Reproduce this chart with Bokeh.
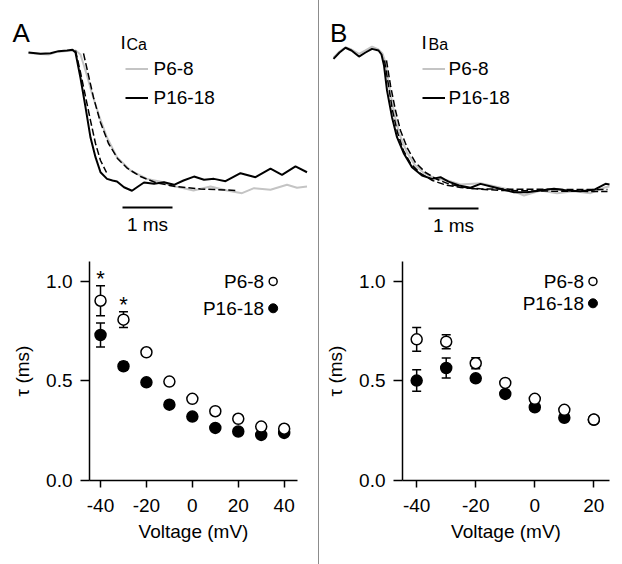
from bokeh.plotting import figure
from bokeh.layouts import row, column
from bokeh.models import ColumnDataSource, Whisker, TeeHead, FixedTicker, Div, PrintfTickFormatter
from bokeh.embed import file_html
from bokeh.resources import INLINE
from bokeh.core.properties import value

FONT = "Liberation Sans"
GRAY = "#c4c4c4"

# ---------------- traces (time in ms, normalised current) ----------------
a_black_t = [0.00, 0.24, 0.44, 0.60, 0.77, 0.88, 0.94, 1.04, 1.14, 1.24, 1.34, 1.44, 1.57, 1.68, 1.77, 1.91, 2.07,
             2.17, 2.31, 2.51, 2.71, 2.91, 3.10, 3.31, 3.51, 3.71, 3.94, 4.24, 4.54, 4.84, 5.07, 5.34, 5.57]
a_black_i = [0.00, -0.01, -0.005, 0.01, 0.015, 0.02, 0.00, -0.19, -0.405, -0.63, -0.775, -0.887, -0.936, -0.948,
             -0.956, -0.998, -1.024, -0.998, -0.963, -0.973, -0.961, -0.98, -0.948, -0.919, -0.943, -0.936, -0.953,
             -0.894, -0.924, -0.861, -0.906, -0.844, -0.887]
a_gray_t = [0.00, 0.24, 0.40, 0.56, 0.77, 0.94, 1.04, 1.17, 1.27, 1.41, 1.57, 1.77, 2.04, 2.37, 2.70, 2.84, 3.04,
            3.30, 3.64, 3.97, 4.27, 4.51, 4.84, 5.17, 5.37, 5.57]
a_gray_i = [-0.004, -0.011, -0.015, 0.004, 0.011, 0.015, -0.015, -0.17, -0.304, -0.467, -0.63, -0.776, -0.874,
            -0.936, -0.961, -0.985, -1.0, -1.022, -0.993, -1.022, -1.042, -1.005, -1.017, -0.98, -1.002, -0.993]
a_black_fit_t = [0.94, 1.04, 1.14, 1.24, 1.34, 1.44, 1.56]
a_black_fit_i = [0.015, -0.148, -0.326, -0.504, -0.674, -0.8, -0.889]
a_gray_fit_t = [1.10, 1.20, 1.30, 1.44, 1.60, 1.78, 1.98, 2.24, 2.54, 2.94, 3.44, 4.17]
a_gray_fit_i = [-0.007, -0.17, -0.333, -0.519, -0.674, -0.785, -0.859, -0.919, -0.963, -0.993, -1.011, -1.022]

b_black_t = [0.00, 0.12, 0.24, 0.36, 0.51, 0.64, 0.77, 0.90, 0.96, 1.01, 1.07, 1.17, 1.27, 1.41, 1.57, 1.77, 1.97,
             2.14, 2.30, 2.51, 2.74, 2.94, 3.21, 3.41, 3.61, 3.87, 4.14, 4.41, 4.67, 4.94, 5.21, 5.44, 5.52]
b_black_i = [-0.047, 0.0, 0.035, 0.015, -0.03, 0.0, 0.027, 0.015, -0.015, -0.096, -0.281, -0.479, -0.627, -0.75,
             -0.85, -0.911, -0.936, -0.924, -0.956, -0.985, -1.002, -0.973, -0.998, -1.017, -1.035, -1.035, -1.022,
             -1.01, -1.022, -1.027, -1.017, -0.973, -0.978]
b_gray_t = [0.00, 0.12, 0.24, 0.36, 0.51, 0.64, 0.77, 0.90, 0.98, 1.04, 1.12, 1.22, 1.32, 1.46, 1.62, 1.82, 2.04,
            2.28, 2.54, 2.94, 3.24, 3.54, 3.81, 4.14, 4.47, 4.81, 5.14, 5.44, 5.52]
b_gray_i = [-0.037, 0.007, 0.039, 0.022, -0.01, 0.015, 0.044, 0.022, -0.007, -0.074, -0.267, -0.459, -0.607,
            -0.733, -0.83, -0.896, -0.933, -0.948, -0.978, -0.968, -0.993, -1.017, -1.059, -1.022, -1.042, -1.027,
            -1.042, -0.998, -0.993]
b_black_fit_t = [1.02, 1.10, 1.18, 1.28, 1.40, 1.54, 1.74, 1.98, 2.24, 2.54, 2.94, 3.74, 5.48]
b_black_fit_i = [-0.059, -0.244, -0.43, -0.593, -0.726, -0.822, -0.896, -0.948, -0.981, -1.0, -1.01, -1.013, -1.015]
b_gray_fit_t = [1.06, 1.14, 1.24, 1.34, 1.48, 1.64, 1.84, 2.08, 2.34, 2.74, 3.34, 4.34, 5.48]
b_gray_fit_i = [-0.059, -0.244, -0.43, -0.578, -0.711, -0.815, -0.889, -0.941, -0.978, -1.007, -1.022, -1.027, -1.03]

# ---------------- tau vs voltage ----------------
a_volt = [-40, -30, -20, -10, 0, 10, 20, 30, 40]
a_p68 = [0.903, 0.808, 0.644, 0.497, 0.41, 0.348, 0.31, 0.271, 0.26]
a_p68_err = [0.075, 0.04, 0.012, 0.01, 0.01, 0.01, 0.01, 0.01, 0.01]
a_p1618 = [0.731, 0.574, 0.493, 0.381, 0.321, 0.264, 0.246, 0.229, 0.239]
a_p1618_err = [0.06, 0.02, 0.012, 0.01, 0.01, 0.01, 0.01, 0.01, 0.01]
a_star_volt = [-40, -30]

b_volt = [-40, -30, -20, -10, 0, 10, 20]
b_p68 = [0.709, 0.697, 0.589, 0.49, 0.41, 0.355, 0.306]
b_p68_err = [0.06, 0.035, 0.028, 0.012, 0.01, 0.01, 0.015]
b_p1618 = [0.502, 0.565, 0.513, 0.435, 0.368, 0.315, 0.305]
b_p1618_err = [0.054, 0.05, 0.015, 0.015, 0.01, 0.01, 0.01]

a_xticks = [-40, -20, 0, 20, 40]
b_xticks = [-40, -20, 0, 20]
yticks = [0.0, 0.5, 1.0]
series_names = ["P6-8", "P16-18"]

TOP_H = 245
BOT_H = 319
TOP_YR = (-1.4296, 0.3852)
FS = "19px"


def txt(p, x, y, s, size=FS, align="left", baseline="middle"):
    p.text(x=[x], y=[y], text=[s], text_font=value(FONT), text_font_size=size,
           text_align=align, text_baseline=baseline, text_color="black")


def trace_fig(width, xr, gray, black, gfit, bfit, letter, letter_x, sub, title_x, sub_x, leg_x0, leg_tx,
              bar_x0, bar_y):
    p = figure(width=width, height=TOP_H, x_range=xr, y_range=TOP_YR, output_backend="svg",
               toolbar_location=None, x_axis_location=None, y_axis_location=None, min_border=0,
               frame_align=False)
    p.grid.visible = False
    p.outline_line_color = None
    p.line(gray[0], gray[1], line_color=GRAY, line_width=2)
    p.line(black[0], black[1], line_color="black", line_width=2)
    p.line(gfit[0], gfit[1], line_color="black", line_width=1.5, line_dash="7 3")
    p.line(bfit[0], bfit[1], line_color="black", line_width=1.5, line_dash="7 3")
    # panel letter and title
    txt(p, letter_x, 0.141, letter, size="26px", baseline="alphabetic")
    txt(p, title_x, 0.074, "I", size="19px", baseline="alphabetic")
    txt(p, sub_x, 0.056, sub, size="16px", baseline="alphabetic")
    # legend
    p.line([leg_x0, leg_x0 + 0.45], [-0.122, -0.122], line_color=GRAY, line_width=2)
    p.line([leg_x0, leg_x0 + 0.45], [-0.337, -0.337], line_color="black", line_width=2)
    txt(p, leg_tx, -0.122, series_names[0])
    txt(p, leg_tx, -0.337, series_names[1])
    # 1 ms scale bar
    p.line([bar_x0, bar_x0 + 1.0], [bar_y, bar_y], line_color="black", line_width=2)
    txt(p, bar_x0 + 0.5, bar_y - 0.125, "1 ms", align="center")
    return p


def tau_fig(width, xr, volt, m1, e1, m2, e2, xticks, border_l, border_r, leg_x, leg_y2, stars=None):
    p = figure(width=width, height=BOT_H, x_range=xr, y_range=(0, 1.1), output_backend="svg",
               toolbar_location=None, min_border_left=border_l, min_border_right=border_r,
               min_border_top=16, min_border_bottom=84, frame_align=False)
    p.grid.visible = False
    p.outline_line_color = None
    for ax in p.axis:
        ax.axis_line_width = 1.5
        ax.major_tick_line_width = 1.5
        ax.major_tick_in = 0
        ax.minor_tick_line_color = None
        ax.major_label_text_font = FONT
        ax.major_label_text_font_size = FS
        ax.major_label_text_color = "black"
        ax.axis_label_text_font = FONT
        ax.axis_label_text_font_size = FS
        ax.axis_label_text_font_style = "normal"
        ax.axis_label_text_color = "black"
    p.xaxis.ticker = FixedTicker(ticks=xticks)
    p.xaxis.formatter = PrintfTickFormatter(format="%d")
    p.xaxis.major_tick_out = 7
    p.xaxis.major_label_standoff = 11
    p.xaxis.axis_label = "Voltage (mV)"
    p.xaxis.axis_label_standoff = 6
    p.yaxis.ticker = FixedTicker(ticks=yticks)
    p.yaxis.formatter = PrintfTickFormatter(format="%.1f")
    p.yaxis.major_tick_out = 9
    p.yaxis.major_label_standoff = 8
    p.yaxis.axis_label = "τ (ms)"
    p.yaxis.axis_label_standoff = 10

    for m, e in ((m2, e2), (m1, e1)):
        src = ColumnDataSource(dict(x=volt, upper=[a + b for a, b in zip(m, e)],
                                    lower=[a - b for a, b in zip(m, e)]))
        w = Whisker(source=src, base="x", upper="upper", lower="lower", dimension="height",
                    line_color="black", line_width=1.5, level="underlay",
                    upper_head=TeeHead(size=9, line_width=1.5, line_color="black"),
                    lower_head=TeeHead(size=9, line_width=1.5, line_color="black"))
        p.add_layout(w)
    p.scatter(volt, m2, size=11, marker="circle", fill_color="black", line_color="black", line_width=1.5)
    p.scatter(volt, m1, size=11, marker="circle", fill_color="white", line_color="black", line_width=1.5)
    if stars:
        sy = [m1[volt.index(v)] + e1[volt.index(v)] + 0.035 for v in stars]
        p.text(x=stars, y=sy, text=["*"] * len(stars), text_font=value(FONT), text_font_size="22px",
               text_align="center", text_baseline="middle", text_color="black")
    # legend (labels left of markers)
    p.scatter([leg_x], [1.0], size=8, marker="circle", fill_color="white", line_color="black", line_width=1.5)
    p.scatter([leg_x], [leg_y2], size=9, marker="circle", fill_color="black", line_color="black")
    p.text(x=[leg_x, leg_x], y=[1.0, leg_y2], text=series_names, text_font=value(FONT), text_font_size=FS,
           text_align="right", text_baseline="middle", x_offset=-9, text_color="black")
    return p


topA = trace_fig(318, (-0.56, 5.8), (a_gray_t, a_gray_i), (a_black_t, a_black_i),
                 (a_gray_fit_t, a_gray_fit_i), (a_black_fit_t, a_black_fit_i),
                 "A", -0.32, "Ca", 1.84, 1.96, 1.94, 2.5, 1.88, -1.148)
topB = trace_fig(303, (-0.28, 5.78), (b_gray_t, b_gray_i), (b_black_t, b_black_i),
                 (b_gray_fit_t, b_gray_fit_i), (b_black_fit_t, b_black_fit_i),
                 "B", -0.07, "Ba", 1.76, 1.9, 1.78, 2.3, 1.9, -1.156)
botA = tau_fig(318, (-44.8, 45.8), a_volt, a_p68, a_p68_err, a_p1618, a_p1618_err, a_xticks,
               89, 21, 35.2, 0.865, stars=a_star_volt)
botB = tau_fig(303, (-44.8, 25.3), b_volt, b_p68, b_p68_err, b_p1618, b_p1618_err, b_xticks,
               83, 13, 19.7, 0.89)

divider = Div(width=1, height=TOP_H + BOT_H, margin=0, styles={"background-color": "#8c8c8c"})
layout = row(column(topA, botA, spacing=0), divider, column(topB, botB, spacing=0), spacing=0)

open("out.html", "w").write(file_html(layout, INLINE))
